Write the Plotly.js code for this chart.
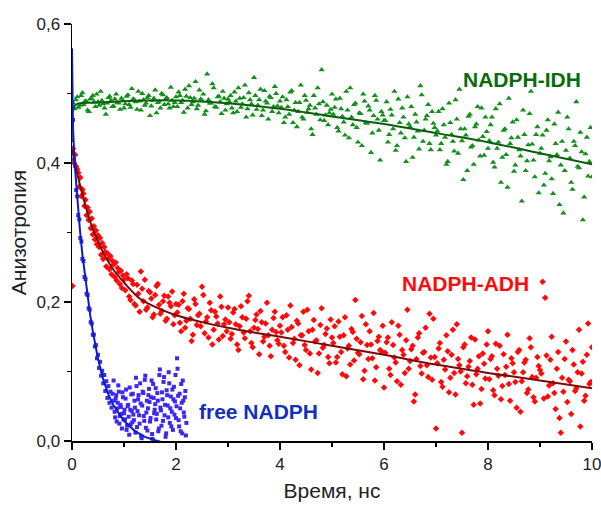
<!DOCTYPE html>
<html>
<head>
<meta charset="utf-8">
<script src="https://cdn.plot.ly/plotly-3.0.1.min.js"></script>
<style>html,body{margin:0;padding:0;background:#fff;}#chart{width:601px;height:507px;}</style>
</head>
<body>
<div id="chart"></div>
<script>
// time channels, ns
var timeA = [0.05,0.1,0.15,0.2,0.25,0.3,0.35,0.4,0.45,0.5,0.55,0.6,0.65,0.7,0.75,0.8,0.85,0.9,0.95,1,
1.05,1.1,1.15,1.2,1.25,1.3,1.35,1.4,1.45,1.5,1.55,1.6,1.65,1.7,1.75,1.8,1.85,1.9,1.95,2,
2.05,2.1,2.15,2.2,2.25,2.3,2.35,2.4,2.45,2.5,2.55,2.6,2.65,2.7,2.75,2.8,2.85,2.9,2.95,3,
3.05,3.1,3.15,3.2,3.25,3.3,3.35,3.4,3.45,3.5,3.55,3.6,3.65,3.7,3.75,3.8,3.85,3.9,3.95,4,
4.05,4.1,4.15,4.2,4.25,4.3,4.35,4.4,4.45,4.5,4.55,4.6,4.65,4.7,4.75,4.8,4.85,4.9,4.95,5,
5.05,5.1,5.15,5.2,5.25,5.3,5.35,5.4,5.45,5.5,5.55,5.6,5.65,5.7,5.75,5.8,5.85,5.9,5.95,6,
6.05,6.1,6.15,6.2,6.25,6.3,6.35,6.4,6.45,6.5,6.55,6.6,6.65,6.7,6.75,6.8,6.85,6.9,6.95,7,
7.05,7.1,7.15,7.2,7.25,7.3,7.35,7.4,7.45,7.5,7.55,7.6,7.65,7.7,7.75,7.8,7.85,7.9,7.95,8,
8.05,8.1,8.15,8.2,8.25,8.3,8.35,8.4,8.45,8.5,8.55,8.6,8.65,8.7,8.75,8.8,8.85,8.9,8.95,9,
9.05,9.1,9.15,9.2,9.25,9.3,9.35,9.4,9.45,9.5,9.55,9.6,9.65,9.7,9.75,9.8,9.85,9.9,9.95,10];
var timeB = [0.025,0.075,0.125,0.175,0.225,0.275,0.325,0.375,0.425,0.475,0.525,0.575,0.625,0.675,0.725,0.775,0.825,0.875,0.925,0.975,
1.025,1.075,1.125,1.175,1.225,1.275,1.325,1.375,1.425,1.475,1.525,1.575,1.625,1.675,1.725,1.775,1.825,1.875,1.925,1.975,
2.025,2.075,2.125,2.175,2.225,2.275,2.325,2.375,2.425,2.475,2.525,2.575,2.625,2.675,2.725,2.775,2.825,2.875,2.925,2.975,
3.025,3.075,3.125,3.175,3.225,3.275,3.325,3.375,3.425,3.475,3.525,3.575,3.625,3.675,3.725,3.775,3.825,3.875,3.925,3.975,
4.025,4.075,4.125,4.175,4.225,4.275,4.325,4.375,4.425,4.475,4.525,4.575,4.625,4.675,4.725,4.775,4.825,4.875,4.925,4.975,
5.025,5.075,5.125,5.175,5.225,5.275,5.325,5.375,5.425,5.475,5.525,5.575,5.625,5.675,5.725,5.775,5.825,5.875,5.925,5.975,
6.025,6.075,6.125,6.175,6.225,6.275,6.325,6.375,6.425,6.475,6.525,6.575,6.625,6.675,6.725,6.775,6.825,6.875,6.925,6.975,
7.025,7.075,7.125,7.175,7.225,7.275,7.325,7.375,7.425,7.475,7.525,7.575,7.625,7.675,7.725,7.775,7.825,7.875,7.925,7.975,
8.025,8.075,8.125,8.175,8.225,8.275,8.325,8.375,8.425,8.475,8.525,8.575,8.625,8.675,8.725,8.775,8.825,8.875,8.925,8.975,
9.025,9.075,9.125,9.175,9.225,9.275,9.325,9.375,9.425,9.475,9.525,9.575,9.625,9.675,9.725,9.775,9.825,9.875,9.925,9.975];
var timeFine = [0.02,0.04,0.06,0.08,0.1,0.12,0.14,0.16,0.18,0.2,0.22,0.24,0.26,0.28,0.3,0.32,0.34,0.36,0.38,0.4,
0.42,0.44,0.46,0.48,0.5,0.52,0.54,0.56,0.58,0.6,0.62,0.64,0.66,0.68,0.7,0.72,0.74,0.76,0.78,0.8,
0.82,0.84,0.86,0.88,0.9,0.92,0.94,0.96,0.98,1];
var timeBlueTail = [1.02,1.04,1.06,1.08,1.1,1.12,1.14,1.16,1.18,1.2,1.22,1.24,1.26,1.28,1.3,1.32,1.34,1.36,1.38,1.4,
1.42,1.44,1.46,1.48,1.5,1.52,1.54,1.56,1.58,1.6,1.62,1.64,1.66,1.68,1.7,1.72,1.74,1.76,1.78,1.8,
1.82,1.84,1.86,1.88,1.9,1.92,1.94,1.96,1.98,2,2.02,2.04,2.06,2.08,2.1,2.12,2.14,2.16,2.18,2.2];
var timeBlueOdd = [0.81,0.83,0.85,0.87,0.89,0.91,0.93,0.95,0.97,0.99,1.01,1.03,1.05,1.07,1.09,1.11,1.13,1.15,1.17,1.19,
1.21,1.23,1.25,1.27,1.29,1.31,1.33,1.35,1.37,1.39,1.41,1.43,1.45,1.47,1.49,1.51,1.53,1.55,1.57,1.59,
1.61,1.63,1.65,1.67,1.69,1.71,1.73,1.75,1.77,1.79,1.81,1.83,1.85,1.87,1.89,1.91,1.93,1.95,1.97,1.99,
2.01,2.03,2.05,2.07,2.09,2.11,2.13,2.15,2.17,2.19];

// NADPH-IDH anisotropy (on timeA and timeB)
var idhY = [0.478,0.495,0.483,0.501,0.489,0.476,0.492,0.497,0.481,0.488,0.503,0.485,0.470,0.494,0.490,0.482,0.499,0.486,0.493,0.479,
0.496,0.484,0.507,0.491,0.477,0.489,0.500,0.483,0.494,0.468,0.490,0.505,0.487,0.479,0.498,0.492,0.485,0.509,0.481,0.495,
0.502,0.487,0.473,0.496,0.511,0.484,0.493,0.478,0.505,0.490,0.470,0.528,0.486,0.514,0.481,0.495,0.488,0.503,0.476,0.492,
0.497,0.472,0.489,0.508,0.480,0.494,0.466,0.501,0.485,0.523,0.477,0.491,0.468,0.504,0.486,0.496,0.474,0.510,0.482,0.489,
0.495,0.466,0.481,0.502,0.458,0.487,0.474,0.512,0.463,0.490,0.478,0.449,0.497,0.470,0.485,0.534,0.461,0.483,0.472,0.499,
0.480,0.451,0.493,0.467,0.440,0.476,0.508,0.455,0.486,0.430,0.471,0.499,0.458,0.482,0.415,0.468,0.490,0.447,0.474,0.461,
0.488,0.441,0.469,0.503,0.425,0.458,0.479,0.436,0.495,0.452,0.408,0.470,0.446,0.511,0.431,0.463,0.484,0.419,0.457,0.440,
0.474,0.428,0.455,0.398,0.486,0.441,0.417,0.463,0.506,0.432,0.449,0.389,0.470,0.425,0.452,0.481,0.410,0.438,0.466,0.421,
0.455,0.401,0.478,0.430,0.372,0.447,0.412,0.493,0.436,0.388,0.462,0.419,0.345,0.441,0.403,0.471,0.427,0.380,0.452,0.414,
0.440,0.385,0.462,0.409,0.356,0.428,0.473,0.397,0.328,0.418,0.449,0.372,0.431,0.488,0.393,0.416,0.351,0.437,0.402,0.380];
var idhY2 = [0.486,0.491,0.480,0.497,0.484,0.489,0.474,0.493,0.488,0.499,0.483,0.490,0.479,0.486,0.496,0.481,0.492,0.487,0.477,0.490,
0.485,0.498,0.480,0.492,0.488,0.503,0.476,0.491,0.486,0.497,0.482,0.493,0.472,0.489,0.500,0.484,0.494,0.479,0.490,0.487,
0.481,0.497,0.490,0.506,0.479,0.494,0.488,0.517,0.483,0.492,0.499,0.475,0.491,0.486,0.508,0.480,0.496,0.471,0.493,0.485,
0.488,0.479,0.502,0.474,0.493,0.485,0.512,0.478,0.491,0.469,0.497,0.483,0.506,0.476,0.489,0.463,0.494,0.481,0.500,0.472,
0.480,0.458,0.491,0.470,0.504,0.476,0.452,0.487,0.466,0.497,0.473,0.483,0.441,0.479,0.508,0.462,0.488,0.469,0.455,0.477,
0.470,0.492,0.446,0.478,0.459,0.503,0.436,0.466,0.484,0.451,0.472,0.425,0.489,0.457,0.476,0.443,0.497,0.463,0.404,0.469,
0.461,0.430,0.477,0.449,0.418,0.492,0.443,0.466,0.402,0.456,0.481,0.437,0.459,0.420,0.498,0.447,0.468,0.428,0.474,0.451,
0.446,0.419,0.478,0.437,0.402,0.458,0.431,0.491,0.414,0.449,0.376,0.440,0.467,0.423,0.398,0.456,0.433,0.479,0.411,0.445,
0.432,0.466,0.394,0.421,0.485,0.408,0.449,0.365,0.428,0.459,0.397,0.437,0.410,0.476,0.389,0.426,0.503,0.404,0.441,0.357,
0.421,0.368,0.447,0.403,0.377,0.456,0.412,0.340,0.431,0.389,0.466,0.407,0.362,0.425,0.395,0.444,0.318,0.413,0.381,0.451];

// NADPH-ADH anisotropy: early part on timeFine, late parts on timeA / timeB from ~1 ns
var adhEarlyY = [0.421,0.400,0.412,0.395,0.391,0.386,0.366,0.379,0.352,0.362,0.356,0.338,0.347,0.325,0.336,0.318,0.330,0.306,0.320,0.297,
0.309,0.290,0.303,0.283,0.296,0.279,0.292,0.268,0.285,0.262,0.279,0.272,0.251,0.270,0.262,0.247,0.266,0.240,0.259,0.254,
0.236,0.257,0.231,0.249,0.243,0.226,0.245,0.220,0.238,0.232];
var adhLateY = [0.240,0.208,0.231,0.197,0.225,0.186,0.219,0.232,0.192,0.214,0.178,0.210,0.226,0.183,0.201,0.173,0.208,0.194,0.168,0.197,
0.196,0.158,0.212,0.173,0.190,0.144,0.204,0.167,0.183,0.222,0.155,0.178,0.199,0.139,0.186,0.169,0.208,0.151,0.175,0.192,
0.147,0.185,0.168,0.131,0.194,0.156,0.176,0.209,0.141,0.163,0.182,0.125,0.171,0.150,0.199,0.137,0.160,0.186,0.145,0.166,
0.178,0.128,0.160,0.195,0.141,0.117,0.169,0.152,0.186,0.131,0.158,0.103,0.174,0.145,0.126,0.191,0.138,0.162,0.112,0.149,
0.165,0.121,0.150,0.096,0.178,0.133,0.110,0.157,0.203,0.127,0.142,0.089,0.168,0.118,0.139,0.184,0.106,0.150,0.129,0.077,
0.142,0.104,0.171,0.120,0.086,0.153,0.131,0.098,0.189,0.115,0.137,0.067,0.149,0.108,0.127,0.163,0.092,0.120,0.176,0.018,
0.133,0.085,0.117,0.152,0.070,0.124,0.098,0.168,0.109,0.012,0.139,0.093,0.115,0.081,0.146,0.104,0.054,0.126,0.090,0.158,
0.118,0.073,0.140,0.094,0.060,0.125,0.107,0.082,0.119,0.099,0.048,0.131,0.086,0.113,0.069,0.148,0.092,0.057,0.121,0.102,
0.229,0.206,0.064,0.117,0.083,0.046,0.128,0.012,0.071,0.143,0.088,0.039,0.110,0.076,0.160,0.097,0.058,0.124,0.082,0.135];
var adhLateY2 = [0.217,0.234,0.203,0.226,0.195,0.212,0.244,0.201,0.189,0.216,0.205,0.182,0.223,0.196,0.187,0.209,0.176,0.199,0.215,0.181,
0.185,0.170,0.201,0.163,0.191,0.176,0.153,0.197,0.181,0.165,0.210,0.172,0.149,0.188,0.160,0.179,0.146,0.193,0.168,0.158,
0.171,0.154,0.190,0.139,0.165,0.178,0.148,0.201,0.158,0.135,0.174,0.161,0.187,0.143,0.169,0.152,0.122,0.177,0.157,0.140,
0.156,0.137,0.181,0.120,0.164,0.147,0.173,0.109,0.152,0.138,0.189,0.126,0.160,0.143,0.098,0.167,0.134,0.154,0.121,0.175,
0.141,0.113,0.172,0.128,0.152,0.093,0.137,0.161,0.116,0.147,0.125,0.180,0.101,0.138,0.158,0.119,0.087,0.144,0.131,0.166,
0.127,0.149,0.095,0.138,0.113,0.166,0.081,0.124,0.145,0.104,0.132,0.057,0.118,0.155,0.097,0.128,0.109,0.183,0.088,0.121,
0.112,0.141,0.078,0.103,0.129,0.091,0.160,0.067,0.118,0.100,0.135,0.083,0.107,0.149,0.052,0.096,0.122,0.075,0.111,0.139,
0.089,0.122,0.066,0.104,0.137,0.079,0.095,0.153,0.058,0.112,0.085,0.128,0.042,0.099,0.117,0.074,0.135,0.063,0.091,0.108,
0.097,0.061,0.123,0.080,0.150,0.069,0.104,0.033,0.091,0.118,0.056,0.086,0.131,0.072,0.099,0.021,0.114,0.065,0.169,0.085];
var adhStartX = [0.01];
var adhStartY = [0.223];

// free NADPH anisotropy: on timeFine + timeBlueTail, and timeBlueOdd
var freeY = [0.462,0.405,0.396,0.361,0.352,0.325,0.319,0.292,0.287,0.262,0.259,0.236,0.233,0.212,0.210,0.191,0.189,0.171,0.169,0.153,
0.153,0.136,0.138,0.119,0.124,0.105,0.114,0.094,0.101,0.083,0.095,0.072,0.086,0.062,0.079,0.055,0.071,0.048,0.068,0.087,
0.042,0.061,0.028,0.055,0.071,0.036,0.049,0.018,0.063,0.040,0.031,0.074,0.022,0.052,0.009,0.045,0.067,0.027,0.038,0.058,
0.012,0.079,0.043,0.066,0.025,0.054,0.004,0.071,0.036,0.088,0.019,0.058,0.047,0.075,0.028,0.063,0.010,0.082,0.040,0.053,
0.031,0.069,0.014,0.095,0.048,0.022,0.060,0.085,0.037,0.006,0.073,0.051,0.099,0.026,0.064,0.042,0.016,0.078,0.057,0.033,
0.119,0.065,0.021,0.047,0.082,0.011,0.058,0.035,0.072,0.026];
var freeY2 = [0.058,0.034,0.066,0.047,0.080,0.025,0.052,0.039,0.070,0.031,0.045,0.061,0.016,0.050,0.035,0.077,0.024,0.043,0.068,0.030,
0.048,0.091,0.020,0.060,0.037,0.083,0.007,0.051,0.069,0.029,0.094,0.041,0.015,0.066,0.056,0.033,0.087,0.003,0.062,0.045,
0.076,0.039,0.058,0.018,0.103,0.044,0.070,0.029,0.092,0.052,0.011,0.066,0.034,0.083,0.047,0.021,0.074,0.060,0.038,0.095,
0.050,0.104,0.030,0.068,0.014,0.055,0.087,0.041,0.063,0.008];

// fitted curves
var idhFitX = [0,0.02,0.1,0.5,1,2,3,4,5,6,7,8,9,10];
var idhFitY = [0.43,0.478,0.485,0.487,0.489,0.490,0.486,0.478,0.467,0.456,0.443,0.430,0.414,0.398];
var adhFitX = [0,0.1,0.2,0.3,0.4,0.5,0.6,0.7,0.8,1,1.3,1.6,2,2.5,3,3.5,4,5,6,7,8,9,10];
var adhFitY = [0.42,0.385,0.355,0.328,0.305,0.288,0.271,0.258,0.246,0.228,0.205,0.193,0.181,0.171,0.163,0.156,0.150,0.137,0.124,0.110,0.098,0.087,0.076];
var freeFitX = [0,0.02,0.05,0.1,0.15,0.2,0.25,0.3,0.35,0.4,0.5,0.6,0.7,0.8,0.9,1,1.2,1.4,1.6,1.8];
var freeFitY = [0.565,0.45,0.40,0.348,0.306,0.268,0.236,0.207,0.181,0.158,0.118,0.089,0.067,0.051,0.039,0.029,0.015,0.006,0.001,-0.003];

var labels = ['NADPH-IDH','NADPH-ADH','free NADPH'];
var xTitle = 'Время, нс';
var yTitle = 'Анизотропия';

var idhX = timeA.concat(timeB);
var idhAll = idhY.concat(idhY2);
var adhX = adhStartX.concat(timeFine, timeA.slice(20), timeB.slice(20));
var adhAll = adhStartY.concat(adhEarlyY, adhLateY, adhLateY2);
var freeX = timeFine.concat(timeBlueTail, timeBlueOdd);
var freeAll = freeY.concat(freeY2);

var traces = [
  {x: idhX, y: idhAll, mode: 'markers', type: 'scatter', marker: {symbol: 'triangle-up', size: 5.5, color: '#12901a'}, hoverinfo: 'none'},
  {x: adhX, y: adhAll, mode: 'markers', type: 'scatter', marker: {symbol: 'diamond', size: 5, color: '#ff0a0a'}, hoverinfo: 'none'},
  {x: freeX, y: freeAll, mode: 'markers', type: 'scatter', marker: {symbol: 'square', size: 4, color: '#3c28f0'}, hoverinfo: 'none'},
  {x: idhFitX, y: idhFitY, mode: 'lines', type: 'scatter', line: {color: '#0b5c0b', width: 2, shape: 'spline'}, hoverinfo: 'none'},
  {x: adhFitX, y: adhFitY, mode: 'lines', type: 'scatter', line: {color: '#7a0a0a', width: 2, shape: 'spline'}, hoverinfo: 'none'},
  {x: freeFitX, y: freeFitY, mode: 'lines', type: 'scatter', line: {color: '#0a1ec8', width: 2}, hoverinfo: 'none'}
];

var font = 'Liberation Sans, Arial, sans-serif';
var layout = {
  width: 601, height: 507,
  margin: {l: 72, r: 9, t: 24, b: 66},
  paper_bgcolor: '#fff', plot_bgcolor: '#fff',
  showlegend: false,
  separators: ', ',
  font: {family: font, size: 17, color: '#222'},
  xaxis: {
    range: [0, 10], dtick: 2, tick0: 0, showgrid: false, zeroline: false,
    showline: true, linecolor: '#000', linewidth: 1.5,
    ticks: 'outside', ticklen: 7, tickwidth: 1.5, tickcolor: '#000',
    ticklabeloverflow: 'allow',
    minor: {ticks: 'outside', ticklen: 4, tickwidth: 1.5, tickcolor: '#000', dtick: 1, showgrid: false},
    tickfont: {family: font, size: 17, color: '#222'},
    title: {text: xTitle, font: {family: font, size: 21, color: '#222'}, standoff: 10}
  },
  yaxis: {
    range: [0, 0.6], dtick: 0.2, tick0: 0, tickformat: '.1f', showgrid: false, zeroline: false,
    showline: true, linecolor: '#000', linewidth: 1.5,
    ticks: 'outside', ticklen: 7, tickwidth: 1.5, tickcolor: '#000',
    minor: {ticks: 'outside', ticklen: 4, tickwidth: 1.5, tickcolor: '#000', dtick: 0.1, showgrid: false},
    tickfont: {family: font, size: 17, color: '#222'},
    title: {text: yTitle, font: {family: font, size: 21, color: '#222'}, standoff: 4}
  },
  annotations: [
    {x: 8.66, y: 0.52, xref: 'x', yref: 'y', text: '<b>' + labels[0] + '</b>', showarrow: false, font: {family: font, size: 21, color: '#0b6a0b'}},
    {x: 7.57, y: 0.226, xref: 'x', yref: 'y', text: '<b>' + labels[1] + '</b>', showarrow: false, font: {family: font, size: 21, color: '#ff0a0a'}},
    {x: 3.59, y: 0.043, xref: 'x', yref: 'y', text: '<b>' + labels[2] + '</b>', showarrow: false, font: {family: font, size: 21, color: '#1430c0'}}
  ]
};

Plotly.newPlot('chart', traces, layout, {staticPlot: true, displayModeBar: false});
</script>
</body>
</html>
